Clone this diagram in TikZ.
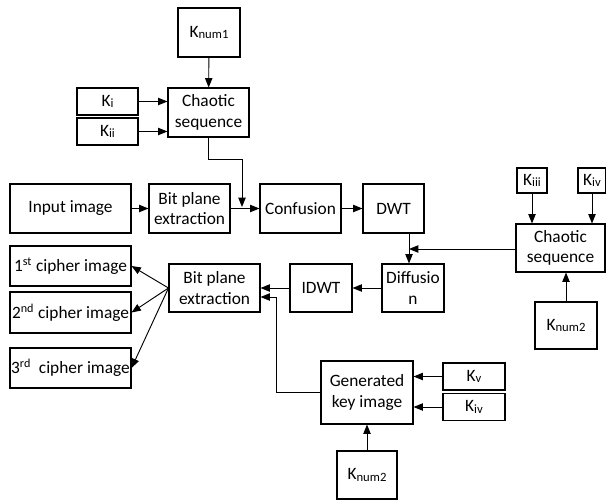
\documentclass[tikz,border=0pt]{standalone}
\usepackage{fontspec}
\setmainfont{Carlito}
\usetikzlibrary{arrows.meta}
\newcommand{\kk}[1]{K{\fontsize{9.5}{9.5}\selectfont\raisebox{-0.2ex}{#1}}}

\begin{document}
\begin{tikzpicture}[x=0.75pt,y=-0.75pt,>={Triangle[length=7pt,width=5.5pt]},
  box/.style={draw,line width=0.8pt,inner sep=0pt,align=center,font=\fontsize{13}{15.5}\selectfont},
  every path/.style={line width=0.7pt}]
\useasboundingbox (0,0) rectangle (606,500);
% first stage
\node[box,minimum width=46.5pt,minimum height=36.75pt] (kn1) at (209,32.5) {\kk{num1}};
\node[box,minimum width=60.75pt,minimum height=36.75pt] (chaos1) at (208.5,112.5) {Chaotic\\sequence};
\node[box,minimum width=45.75pt,minimum height=20.25pt] (ki) at (107.5,101.5) {\kk{i}};
\node[box,minimum width=45.75pt,minimum height=20.25pt] (kii) at (107.5,131.5) {\kk{ii}};
\node[box,minimum width=90.75pt,minimum height=36.75pt] (input) at (70.5,208.5) {Input image};
\node[box,minimum width=60.75pt,minimum height=36.75pt] (bpe1) at (189.5,208.5) {Bit plane\\extraction};
\node[box,minimum width=60.75pt,minimum height=36.75pt] (conf) at (300.5,208.5) {Confusion};
\node[box,minimum width=45.75pt,minimum height=36.75pt] (dwt) at (393.5,208.5) {DWT};
% second stage
\node[box,minimum width=90.75pt,minimum height=30pt] (cipher1) at (70.5,266) {1\textsuperscript{st} cipher image};
\node[box,minimum width=90.75pt,minimum height=30.75pt] (cipher2) at (70.5,312.5) {2\textsuperscript{nd} cipher image};
\node[box,minimum width=90.75pt,minimum height=30pt] (cipher3) at (70.5,368) {3\textsuperscript{rd}\ \ cipher image};
\node[box,minimum width=68.25pt,minimum height=36pt] (bpe2) at (214.5,288) {Bit plane\\extraction};
\node[box,minimum width=46.5pt,minimum height=36pt] (idwt) at (321,288) {IDWT};
\node[box,minimum width=46.5pt,minimum height=36pt] (diff) at (413,288) {Diffusio\\n};
\node[box,minimum width=66.75pt,minimum height=36pt] (chaos2) at (560.5,248) {Chaotic\\sequence};
\node[box,minimum width=22.5pt,minimum height=18.75pt] (kiii) at (532,180.5) {\kk{iii}};
\node[box,minimum width=21pt,minimum height=18.75pt] (kiv1) at (592,180.5) {\kk{iv}};
\node[box,minimum width=46.5pt,minimum height=35.25pt] (kn2) at (566,325.5) {\kk{num2}};
% key image
\node[box,minimum width=69pt,minimum height=47.25pt] (genkey) at (367,392.5) {Generated\\key image};
\node[box,minimum width=46.5pt,minimum height=20.25pt] (kv) at (474,376.5) {\kk{v}};
\node[box,minimum width=46.5pt,minimum height=20.25pt] (kiv2) at (474,407) {\kk{iv}};
\node[box,minimum width=45pt,minimum height=36pt] (kn3) at (367,475) {\kk{num2}};
\coordinate (j1) at (242,207);
\coordinate (j2) at (409,249);
\coordinate (j3) at (276,297);

\draw[->] (kn1) -- (chaos1);
\draw[->] (ki.east) -- (ki.east -| chaos1.west);
\draw[->] (kii.east) -- (kii.east -| chaos1.west);
\draw[->] (chaos1.south) -- ++(0,22) -| (j1);
\draw[->] (input) -- (bpe1);
\draw[->] (bpe1) -- (conf);
\draw[->] (conf) -- (dwt);
\draw[->] (dwt.south -| j2) -- (diff.north -| j2);
\draw[->] (chaos2.west |- j2) -- (j2);
\draw[->] (kiii) -- (kiii |- chaos2.north);
\draw[->] (kiv1) -- (kiv1 |- chaos2.north);
\draw[->] (kn2.north -| 566,0) -- (chaos2.south -| 566,0);
\draw[->] (diff) -- (idwt);
\draw[->] (idwt) -- (bpe2);
\draw[->] (genkey.west) -| (j3) -- (j3 -| bpe2.east);
\foreach \c in {cipher1,cipher2,cipher3}
\draw[->] (bpe2.west) -- (\c.east);
\draw[->] (kv.west) -- (kv.west -| genkey.east);
\draw[->] (kiv2.west) -- (kiv2.west -| genkey.east);
\draw[->] (kn3) -- (genkey);
\end{tikzpicture}
\end{document}
